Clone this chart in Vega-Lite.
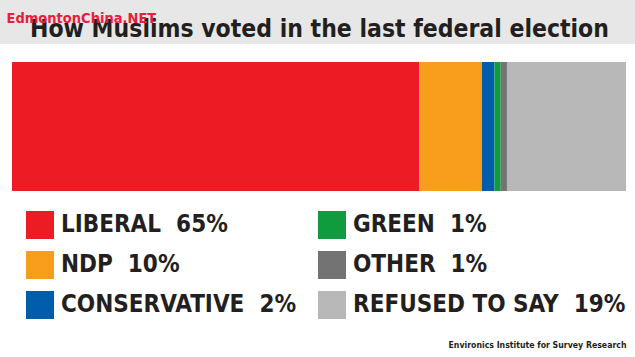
{
  "$schema": "https://vega.github.io/schema/vega-lite/v6.json",
  "width": 635,
  "height": 313,
  "autosize": {"type": "none"},
  "padding": {"top": 44, "left": 0, "right": 0, "bottom": 0},
  "background": "#e7e7e7",
  "view": {"fill": "white", "stroke": null},
  "title": {
    "text": "How Muslims voted in the last federal election",
    "anchor": "start",
    "frame": "group",
    "dx": 30,
    "offset": -51,
    "baseline": "alphabetic",
    "font": "DejaVu Sans Condensed",
    "fontSize": 24.5,
    "fontWeight": "bold",
    "color": "#231f20",
    "zindex": 0
  },
  "data": {
    "values": [
      {"party": "LIBERAL", "label": "LIBERAL\u00a0\u00a065%", "pct": 65, "rank": 1, "row": "all"},
      {"party": "NDP", "label": "NDP\u00a0\u00a010%", "pct": 10, "rank": 2, "row": "all"},
      {"party": "CONSERVATIVE", "label": "CONSERVATIVE\u00a0\u00a02%", "pct": 2, "rank": 3, "row": "all"},
      {"party": "GREEN", "label": "GREEN\u00a0\u00a01%", "pct": 1, "rank": 4, "row": "all"},
      {"party": "OTHER", "label": "OTHER\u00a0\u00a01%", "pct": 1, "rank": 5, "row": "all"},
      {"party": "REFUSED TO SAY", "label": "REFUSED TO SAY\u00a0\u00a019%", "pct": 19, "rank": 6, "row": "all"}
    ]
  },
  "mark": {"type": "bar"},
  "encoding": {
    "x": {
      "field": "pct",
      "type": "quantitative",
      "stack": "zero",
      "scale": {"domain": [0, 98], "range": [12, 626], "nice": false},
      "axis": {
        "title": "Environics Institute for Survey Research",
        "titleX": 626,
        "titleY": -10,
        "titleAlign": "right",
        "titleAnchor": null,
        "titleBaseline": "alphabetic",
        "titleFont": "DejaVu Sans Condensed",
        "titleFontSize": 8.7,
        "titleFontWeight": "bold",
        "titleColor": "#231f20",
        "labels": false,
        "ticks": false,
        "domain": false,
        "grid": false
      }
    },
    "y": {
      "field": "row",
      "type": "nominal",
      "scale": {"range": [18, 147], "paddingInner": 0, "paddingOuter": 0},
      "axis": {
        "title": "EdmontonChina.NET",
        "titleX": 6,
        "titleY": -22,
        "titleAngle": 0,
        "titleAlign": "left",
        "titleBaseline": "alphabetic",
        "titleFont": "DejaVu Sans Condensed",
        "titleFontSize": 14.5,
        "titleFontWeight": "bold",
        "titleColor": "#e8203c",
        "labels": false,
        "ticks": false,
        "domain": false,
        "grid": false,
        "zindex": 1
      }
    },
    "color": {
      "field": "label",
      "type": "nominal",
      "scale": {
        "domain": ["LIBERAL\u00a0\u00a065%", "NDP\u00a0\u00a010%", "CONSERVATIVE\u00a0\u00a02%", "GREEN\u00a0\u00a01%", "OTHER\u00a0\u00a01%", "REFUSED TO SAY\u00a0\u00a019%"],
        "range": ["#ed1c24", "#f99d1c", "#005dab", "#109b3f", "#737373", "#b8b8b8"]
      },
      "legend": {
        "orient": "none",
        "legendX": 26,
        "legendY": 167,
        "columns": 2,
        "title": null,
        "padding": 0,
        "symbolType": "square",
        "symbolSize": 784,
        "symbolStrokeWidth": 0,
        "symbolOpacity": 1,
        "labelFont": "DejaVu Sans Condensed",
        "labelFontSize": 24,
        "labelFontWeight": "bold",
        "labelColor": "#231f20",
        "labelOffset": 7,
        "labelLimit": 0,
        "rowPadding": 12,
        "columnPadding": 21
      }
    },
    "order": {"field": "rank", "type": "quantitative"}
  }
}
